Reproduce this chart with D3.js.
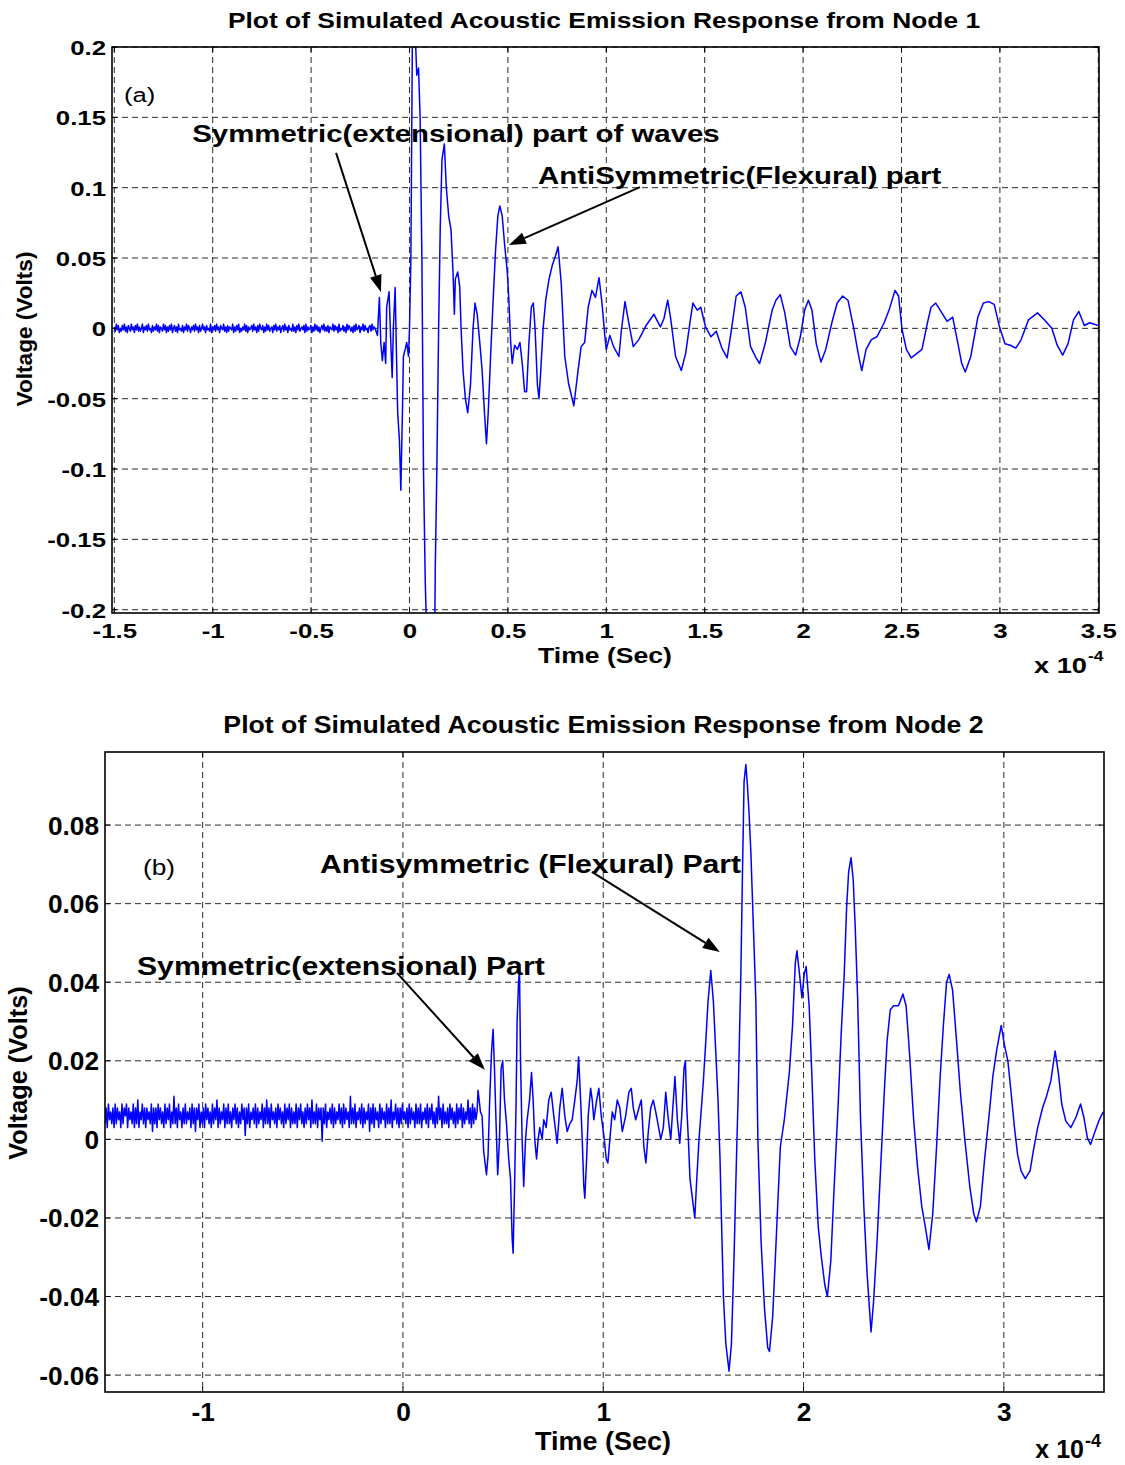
<!DOCTYPE html>
<html><head><meta charset="utf-8">
<script src="https://cdn.jsdelivr.net/npm/d3@7"></script>
<style>body{margin:0;background:#fff}svg{display:block}</style>
</head><body>
<svg id="c" width="1125" height="1465"></svg>
<script>
// ---------------- DATA (time in units of 1e-4 s, voltage in V) ----------------
const node1Title = "Plot of Simulated Acoustic Emission Response from Node 1";
const node2Title = "Plot of Simulated Acoustic Emission Response from Node 2";

const node1XTicks = [-1.5,-1,-0.5,0,0.5,1,1.5,2,2.5,3,3.5];
const node1XLabels = ["-1.5","-1","-0.5","0","0.5","1","1.5","2","2.5","3","3.5"];
const node1YTicks = [-0.2,-0.15,-0.1,-0.05,0,0.05,0.1,0.15,0.2];
const node1YLabels = ["-0.2","-0.15","-0.1","-0.05","0","0.05","0.1","0.15","0.2"];

const node2XTicks = [-1,0,1,2,3];
const node2XLabels = ["-1","0","1","2","3"];
const node2YTicks = [-0.06,-0.04,-0.02,0,0.02,0.04,0.06,0.08];
const node2YLabels = ["-0.06","-0.04","-0.02","0","0.02","0.04","0.06","0.08"];

// pre-trigger noise (mV), sampled evenly over [start, end]
const node1NoiseSpan = [-1.5, -0.18];
const node1NoiseMV = [
1,-2,3,-1,2,-3,0,-2,2,-1,3,-2,1,-3,2,0,-2,3,-1,1,
-3,2,-1,3,-2,1,-2,0,3,-3,1,-1,2,-2,3,-1,0,-3,2,-2,
1,-1,3,-2,2,-3,1,0,-2,3,-1,2,-3,1,-2,2,-1,3,-3,0,
2,-2,1,-3,3,-1,0,-2,2,-3,1,-1,3,-2,2,0,-3,1,-1,2,
-2,3,-1,1,-3,2,-2,0,3,-1,1,-3,2,-1,0,-2,3,-3,1,-1,
2,-2,3,-1,1,-3,2,0,-1,3,-2,1,-3,2,-2,1,0,-1,3,-3,
1,-2,2,-1,3,-3,0,-2,1,-1,3,-2,2,-3,1,-1,0,2,-2,3,
-1,1,-3,2,-2,3,0,-1,2,-3,1,-2,3,-1,2,-2,0,1,-3,2,
-1,3,-2,1,-1,2,-3,0,2,-2,3,-1,1,-3,2,-1,0,-2,3,-2,
1,-3,2,-1,3,-2,0,1,-1,2,-3,3,-2,1,-1,0,2,-3,1,-2,
3,-1,2,-2,1,-3,0,2,-1,3,-2,1,-2,2,-3,1,0,-1,3,-2,
2,-1,1,-3,3,-2,0,-1,2,-2,1,-3,3,-1,2,0,-2,1,-3,2,
-2,3,-1,0,2,-3,1,-1,3,-2,2,-1,0,-3,1,2,-2,3,-1,1];

const node2NoiseSpan = [-1.4875, 0.37];
const node2NoiseMV = [
4,8,3,9,5,7,4,8,3,9,4,8,5,7,3,9,4,8,6,9,3,8,
5,7,4,9,3,8,4,10,3,7,5,9,4,8,3,8,5,7,4,9,2,8,
4,8,3,9,5,8,4,7,3,9,4,8,5,9,3,7,4,11,4,8,3,9,
5,7,3,8,4,9,4,7,5,8,3,9,4,8,2,8,5,9,3,7,4,8,
3,9,5,8,4,7,3,9,4,8,5,10,3,8,4,7,5,9,3,8,4,9,
4,7,3,8,5,9,4,8,3,7,4,9,5,8,1,8,4,9,3,7,5,8,
4,9,3,8,4,7,5,9,3,8,4,10,4,8,3,9,5,7,4,8,3,9,
5,8,4,7,3,9,4,8,5,9,3,8,4,7,4,9,3,8,5,9,4,7,
3,8,4,9,5,8,3,10,4,7,4,9,3,8,5,8,-0.5,8,4,9,3,7,
5,8,4,9,3,8,4,7,5,9,4,8,3,9,4,8,5,7,3,11,4,8,
4,9,3,7,5,8,4,9,3,8,4,7,5,9,2,8,4,9,3,8,5,7,
3,9,4,8,5,7,3,9,4,8,4,10,3,7,5,9,4,8,3,8,4,9,
5,7,4,8,3,9,4,8,5,7,3,9,4,8,4,9,3,7,5,8,4,9,
3,8,5,9,4,7,3,8,4,11,5,8,3,9,4,7,4,8,3,9,5,8,
4,7,3,9,4,8,5,9,3,8,4,7,5,10,4,8,3,9,4,8,5,7];

// waveform after the trigger: [time, voltage]
const node1Wave = [[-0.175,0.0],[-0.163,-0.005],[-0.153,0.022],[-0.146,-0.010],[-0.138,-0.023],[-0.129,-0.010],[-0.121,-0.025],[-0.116,0.015],[-0.104,0.026],[-0.095,-0.010],[-0.088,-0.035],[-0.082,0.000],[-0.073,0.029],[-0.066,-0.020],[-0.060,-0.060],[-0.051,-0.080],[-0.044,-0.115],[-0.036,-0.060],[-0.031,-0.020],[-0.022,-0.015],[-0.014,-0.010],[-0.005,-0.020],[0.000,0.000],[0.007,0.050],[0.015,0.215],[0.029,0.210],[0.037,0.180],[0.046,0.185],[0.054,0.150],[0.063,0.050],[0.071,-0.100],[0.080,-0.180],[0.088,-0.220],[0.128,-0.220],[0.131,-0.170],[0.139,-0.100],[0.148,0.000],[0.156,0.070],[0.165,0.120],[0.177,0.131],[0.187,0.100],[0.199,0.080],[0.211,0.070],[0.221,0.040],[0.228,0.010],[0.233,0.035],[0.245,0.040],[0.255,0.030],[0.262,0.000],[0.272,-0.030],[0.284,-0.050],[0.296,-0.060],[0.310,-0.040],[0.323,0.000],[0.333,0.018],[0.344,0.010],[0.357,-0.010],[0.369,-0.030],[0.381,-0.060],[0.391,-0.082],[0.400,-0.060],[0.412,-0.020],[0.425,0.020],[0.437,0.055],[0.449,0.080],[0.459,0.087],[0.471,0.080],[0.483,0.060],[0.497,0.040],[0.505,0.020],[0.514,-0.010],[0.522,-0.025],[0.534,-0.012],[0.548,-0.015],[0.561,-0.010],[0.573,-0.025],[0.585,-0.045],[0.595,-0.045],[0.607,-0.010],[0.619,0.015],[0.629,0.018],[0.638,0.000],[0.650,-0.040],[0.658,-0.050],[0.667,-0.030],[0.679,0.000],[0.692,0.020],[0.709,0.035],[0.726,0.045],[0.743,0.052],[0.755,0.058],
[0.771,0.032],[0.789,-0.020],[0.808,-0.039],[0.835,-0.055],[0.853,-0.034],[0.872,-0.013],[0.890,-0.010],[0.908,0.015],[0.927,0.027],[0.945,0.022],[0.963,0.036],[0.978,0.018],[0.993,-0.006],[1.000,-0.015],[1.018,-0.005],[1.037,-0.013],[1.064,-0.020],[1.077,-0.001],[1.095,0.019],[1.114,0.004],[1.137,-0.013],[1.165,-0.008],[1.202,0.002],[1.242,0.010],[1.275,0.001],[1.293,0.007],[1.312,0.020],[1.326,0.008],[1.352,-0.020],[1.381,-0.030],[1.403,-0.018],[1.425,0.004],[1.440,0.018],[1.462,0.013],[1.480,0.015],[1.504,0.001],[1.532,-0.006],[1.559,-0.002],[1.587,-0.014],[1.614,-0.021],[1.638,0.001],[1.660,0.023],[1.684,0.026],[1.706,0.015],[1.733,-0.013],[1.761,-0.021],[1.779,-0.025],[1.807,-0.011],[1.843,0.013],[1.862,0.020],[1.884,0.024],[1.907,0.011],[1.935,-0.013],[1.962,-0.019],[1.986,-0.006],[2.008,0.013],[2.027,0.020],[2.045,0.013],[2.067,-0.011],[2.091,-0.024],[2.115,-0.015],[2.146,0.004],[2.173,0.018],[2.201,0.023],[2.228,0.020],[2.256,0.001],[2.280,-0.018],[2.298,-0.030],[2.320,-0.015],[2.347,-0.008],[2.375,-0.006],[2.412,0.004],[2.439,0.014],[2.467,0.027],[2.485,0.023],[2.503,-0.001],[2.525,-0.015],[2.549,-0.021],[2.577,-0.018],[2.604,-0.015],[2.632,0.004],[2.650,0.015],[2.674,0.018],[2.705,0.011],[2.732,0.005],[2.760,0.008],[2.787,-0.011],[2.806,-0.025],[2.824,-0.031],[2.852,-0.020],[2.888,0.008],[2.916,0.018],[2.943,0.019],[2.971,0.017],[2.998,0.001],[3.026,-0.011],[3.053,-0.012],[3.081,-0.014],[3.108,-0.008],[3.145,0.006],[3.191,0.011],[3.227,0.006],[3.264,0.000],[3.291,-0.012],[3.319,-0.019],[3.346,-0.011],[3.374,0.006],[3.401,0.012],[3.429,0.002],[3.456,0.004],[3.500,0.002]];

const node2Wave = [[0.375,0.0125],[0.387,0.007],[0.395,0.006],[0.403,-0.003],[0.417,-0.009],[0.425,-0.004],[0.433,0.010],[0.442,0.022],[0.450,0.028],[0.457,0.018],[0.465,0.004],[0.473,-0.009],[0.482,0.000],[0.490,0.018],[0.498,0.020],[0.507,0.010],[0.517,0.004],[0.528,-0.005],[0.537,-0.010],[0.545,-0.025],[0.550,-0.029],[0.558,-0.010],[0.565,0.010],[0.570,0.030],[0.577,0.040],[0.582,0.043],[0.587,0.020],[0.595,0.000],[0.603,-0.012],[0.612,0.000],[0.620,0.005],[0.632,0.010],[0.642,0.017],[0.650,0.010],[0.658,0.000],[0.667,-0.005],[0.675,0.000],[0.683,0.003],[0.695,0.000],[0.703,0.005],[0.715,0.003],[0.728,0.010],[0.740,0.012],[0.753,0.006],[0.770,-0.001],[0.783,0.008],[0.795,0.013],[0.808,0.006],[0.820,0.002],[0.833,0.004],[0.845,0.005],[0.858,0.010],[0.870,0.015],[0.877,0.021],[0.887,0.010],[0.895,0.000],[0.903,-0.012],[0.908,-0.015],[0.917,-0.005],[0.925,0.006],[0.937,0.013],[0.945,0.010],[0.953,0.005],[0.967,0.010],[0.978,0.013],[0.990,0.006],[1.003,0.001],[1.015,-0.005],[1.023,-0.006],[1.033,0.000],[1.045,0.007],[1.057,0.005],[1.070,0.010],[1.083,0.008],[1.095,0.002],[1.112,0.006],[1.128,0.012],[1.140,0.013],[1.150,0.008],[1.162,0.005],[1.178,0.008],[1.190,0.010],[1.203,-0.002],[1.213,-0.006],[1.225,0.002],[1.237,0.008],[1.250,0.010],[1.262,0.007],[1.273,0.004],[1.287,0.000],[1.300,0.003],[1.312,0.012],[1.323,0.006],[1.337,0.000],[1.350,0.010],[1.358,0.016],[1.370,0.005],[1.382,-0.001],[1.392,0.006],[1.403,0.018],[1.410,0.020],[1.417,0.008],[1.425,0.000],[1.433,-0.010],[1.445,-0.015],[1.457,-0.020],[1.467,-0.010],[1.478,0.000],[1.490,0.008],[1.500,0.015],[1.512,0.025],[1.523,0.035],[1.537,0.043],[1.550,0.035],[1.562,0.022],[1.573,0.010],[1.583,-0.005],[1.590,-0.020],[1.600,-0.040],[1.612,-0.052],[1.628,-0.059],[1.640,-0.052],[1.653,-0.030],[1.665,-0.005],[1.673,0.010],[1.687,0.042],[1.695,0.0675],[1.703,0.091],[1.712,0.0954],[1.720,0.090],[1.728,0.083],[1.737,0.073],[1.745,0.061],[1.753,0.049],[1.762,0.035],[1.772,0.000],[1.788,-0.026],[1.805,-0.043],[1.821,-0.053],[1.830,-0.054],[1.846,-0.045],[1.863,-0.026],[1.884,-0.002],[1.904,0.005],[1.929,0.017],[1.945,0.029],[1.959,0.045],[1.967,0.048],[1.980,0.042],[1.992,0.036],[2.003,0.042],[2.013,0.044],[2.028,0.034],[2.041,0.017],[2.056,-0.005],[2.073,-0.022],[2.089,-0.030],[2.106,-0.037],[2.119,-0.040],[2.136,-0.031],[2.152,-0.013],[2.172,0.008],[2.188,0.027],[2.203,0.042],[2.215,0.059],[2.225,0.068],[2.237,0.0717],[2.248,0.066],[2.258,0.054],[2.270,0.036],[2.284,0.006],[2.301,-0.017],[2.317,-0.034],[2.337,-0.049],[2.350,-0.041],[2.367,-0.026],[2.387,-0.005],[2.403,0.012],[2.417,0.025],[2.433,0.033],[2.450,0.034],[2.474,0.034],[2.496,0.037],[2.512,0.034],[2.529,0.022],[2.549,0.0055],[2.569,-0.007],[2.590,-0.017],[2.607,-0.022],[2.626,-0.028],[2.645,-0.019],[2.664,-0.002],[2.681,0.015],[2.698,0.029],[2.714,0.040],[2.727,0.042],[2.744,0.038],[2.764,0.025],[2.783,0.012],[2.805,0.000],[2.830,-0.012],[2.850,-0.019],[2.863,-0.021],[2.883,-0.017],[2.904,-0.005],[2.926,0.006],[2.945,0.016],[2.965,0.023],[2.987,0.029],[3.003,0.024],[3.020,0.020],[3.036,0.012],[3.053,0.003],[3.069,-0.004],[3.086,-0.008],[3.107,-0.010],[3.131,-0.008],[3.147,-0.003],[3.169,0.003],[3.193,0.008],[3.213,0.011],[3.235,0.015],[3.256,0.0225],[3.273,0.0166],[3.289,0.009],[3.309,0.0047],[3.334,0.003],[3.359,0.0055],[3.383,0.009],[3.400,0.0055],[3.417,0.0004],[3.433,-0.0013],[3.455,0.002],[3.474,0.0047],[3.496,0.007]];

// annotations in data coordinates
const node1Notes = [
  {text:"Symmetric(extensional) part of waves", t:-1.104, v:0.1324, tail:[-0.373,0.1247], tip:[-0.145,0.0258]},
  {text:"AntiSymmetric(Flexural) part", t:0.653, v:0.1026, tail:[1.171,0.1004], tip:[0.505,0.0592]}
];
const node2Notes = [
  {text:"Antisymmetric (Flexural) Part", t:-0.414, v:0.0678, tail:[0.943,0.0681], tip:[1.582,0.0477]},
  {text:"Symmetric(extensional) Part", t:-1.328, v:0.0418, tail:[-0.030,0.0424], tip:[0.409,0.0177]}
];

// ---------------- DRAWING ----------------
const FONT = "'Liberation Sans', Arial, Helvetica, sans-serif";
const svg = d3.select('#c');
svg.append('rect').attr('width',1125).attr('height',1465).attr('fill','#fff');

function label(x, y, str, o) {
  return svg.append('text')
    .attr('transform', `translate(${x},${y}) ${o.rotate ? 'rotate(-90)' : ''} scale(${o.sx||1},1)`)
    .attr('text-anchor', o.anchor || 'start')
    .attr('font-family', FONT)
    .attr('font-weight', o.weight || 'bold')
    .attr('font-size', o.size)
    .attr('fill', '#000')
    .text(str);
}

function drawPanel(p) {
  const x = d3.scaleLinear().domain(p.xDomain).range(p.xRange);
  const y = d3.scaleLinear().domain(p.yDomain).range(p.yRange);
  const B = p.box;
  const g = svg.append('g');

  svg.append('clipPath').attr('id', 'clip' + p.id)
    .append('rect').attr('x', B.l).attr('y', B.t).attr('width', B.r - B.l).attr('height', B.b - B.t);

  // grid
  g.append('g').selectAll('line').data(p.xTicks).join('line')
    .attr('x1', d => x(d)).attr('x2', d => x(d)).attr('y1', B.t).attr('y2', B.b)
    .attr('stroke', '#2a2a2a').attr('stroke-width', 1).attr('stroke-dasharray', '6,4');
  g.append('g').selectAll('line').data(p.yTicks).join('line')
    .attr('y1', d => y(d)).attr('y2', d => y(d)).attr('x1', B.l).attr('x2', B.r)
    .attr('stroke', '#2a2a2a').attr('stroke-width', 1).attr('stroke-dasharray', '6,4');

  // waveform: noise samples + wave
  const n = p.noise.length;
  const noisePts = p.noise.map((mv, i) => [p.noiseSpan[0] + i * (p.noiseSpan[1] - p.noiseSpan[0]) / (n - 1), mv / 1000]);
  const pts = noisePts.concat(p.wave);
  g.append('path').datum(pts)
    .attr('clip-path', `url(#clip${p.id})`)
    .attr('fill', 'none').attr('stroke', '#0000ff').attr('stroke-width', p.lineW)
    .attr('stroke-linejoin', 'round')
    .attr('d', d3.line().x(d => x(d[0])).y(d => y(d[1])));

  // small inward tick marks on all sides
  const tl = 5;
  const tk = g.append('g').attr('stroke', '#000').attr('stroke-width', 1);
  p.xTicks.forEach(d => {
    tk.append('line').attr('x1', x(d)).attr('x2', x(d)).attr('y1', B.b).attr('y2', B.b - tl);
    tk.append('line').attr('x1', x(d)).attr('x2', x(d)).attr('y1', B.t).attr('y2', B.t + tl);
  });
  p.yTicks.forEach(d => {
    tk.append('line').attr('y1', y(d)).attr('y2', y(d)).attr('x1', B.l).attr('x2', B.l + tl);
    tk.append('line').attr('y1', y(d)).attr('y2', y(d)).attr('x1', B.r).attr('x2', B.r - tl);
  });

  // box
  g.append('rect').attr('x', B.l).attr('y', B.t).attr('width', B.r - B.l).attr('height', B.b - B.t)
    .attr('fill', 'none').attr('stroke', '#000').attr('stroke-width', 1.6);

  // axes (labels)
  const xAxis = d3.axisBottom(x).tickValues(p.xTicks)
    .tickFormat(d => p.xLabels[p.xTicks.indexOf(d)]).tickSize(0);
  const gx = g.append('g').attr('transform', `translate(0,${B.b})`).call(xAxis);
  gx.select('.domain').remove();
  gx.attr('font-family', FONT).attr('font-size', p.tickSize).attr('font-weight', 'bold');
  gx.selectAll('text').attr('y', p.xLabelOff).attr('dy', null).attr('fill', '#000')
    .attr('transform', `scale(${p.sx},1)`);

  const yAxis = d3.axisLeft(y).tickValues(p.yTicks)
    .tickFormat(d => p.yLabels[p.yTicks.indexOf(d)]).tickSize(0);
  const gy = g.append('g').attr('transform', `translate(${B.l},0)`).call(yAxis);
  gy.select('.domain').remove();
  gy.attr('font-family', FONT).attr('font-size', p.tickSize).attr('font-weight', 'bold');
  gy.selectAll('text').attr('x', -p.yLabelGap / p.sx).attr('dy', null).attr('y', p.yLabelOff)
    .attr('fill', '#000').attr('transform', `scale(${p.sx},1)`);

  // titles / labels
  label(p.title.x, p.title.y, p.title.text, {size: p.title.size, sx: p.title.sx, anchor: 'middle'});
  label(p.xlab.x, p.xlab.y, 'Time (Sec)', {size: p.xlab.size, sx: p.xlab.sx, anchor: 'middle'});
  label(p.ylab.x, p.ylab.y, 'Voltage (Volts)', {size: p.ylab.size, anchor: 'middle', rotate: true});
  label(p.exp.x, p.exp.y, 'x 10', {size: p.exp.size, sx: p.exp.sx, anchor: 'end'});
  label(p.exp.x + 1, p.exp.y - p.exp.rise, '-4', {size: p.exp.supSize, sx: p.exp.sx, anchor: 'start'});
  label(x(p.tag.t), y(p.tag.v), p.tag.text, {size: p.tag.size, sx: p.tag.sx, weight: 'normal'});

  // annotations with arrows
  p.notes.forEach(a => {
    label(x(a.t), y(a.v), a.text, {size: p.noteSize, sx: p.noteSx});
    const x1 = x(a.tail[0]), y1 = y(a.tail[1]), x2 = x(a.tip[0]), y2 = y(a.tip[1]);
    const ang = Math.atan2(y2 - y1, x2 - x1), L = 17, W = 6;
    const bx = x2 - L * Math.cos(ang), by = y2 - L * Math.sin(ang);
    svg.append('line').attr('x1', x1).attr('y1', y1).attr('x2', bx).attr('y2', by)
      .attr('stroke', '#000').attr('stroke-width', 2);
    const px = -Math.sin(ang) * W, py = Math.cos(ang) * W;
    svg.append('polygon')
      .attr('points', `${x2},${y2} ${bx + px},${by + py} ${bx - px},${by - py}`)
      .attr('fill', '#000');
  });
}

drawPanel({
  id: 1,
  box: {l: 112, r: 1099, t: 47, b: 613},
  xDomain: [-1.5, 3.5], xRange: [114.3, 1098.3],
  yDomain: [-0.2, 0.2], yRange: [609.7, 47],
  xTicks: node1XTicks, xLabels: node1XLabels, yTicks: node1YTicks, yLabels: node1YLabels,
  noise: node1NoiseMV, noiseSpan: node1NoiseSpan, wave: node1Wave, lineW: 1.5,
  tickSize: 20.5, sx: 1.26, xLabelOff: 25.5, yLabelGap: 6, yLabelOff: 7.5,
  title: {text: node1Title, x: 604, y: 28, size: 21.8, sx: 1.21},
  xlab: {x: 605, y: 663, size: 21.8, sx: 1.22},
  ylab: {x: 32, y: 329, size: 22.6},
  exp: {x: 1087, y: 673, size: 21.8, sx: 1.25, supSize: 14, rise: 12},
  tag: {text: '(a)', t: -1.451, v: 0.1609, size: 21, sx: 1.22},
  notes: node1Notes, noteSize: 24.5, noteSx: 1.2
});

drawPanel({
  id: 2,
  box: {l: 105, r: 1104, t: 752, b: 1392},
  xDomain: [-1.4875, 3.5], xRange: [105, 1104],
  yDomain: [-0.0643, 0.0986], yRange: [1392, 752],
  xTicks: node2XTicks, xLabels: node2XLabels, yTicks: node2YTicks, yLabels: node2YLabels,
  noise: node2NoiseMV, noiseSpan: node2NoiseSpan, wave: node2Wave, lineW: 1.5,
  tickSize: 25, sx: 1.05, xLabelOff: 29, yLabelGap: 6, yLabelOff: 9,
  title: {text: node2Title, x: 603.5, y: 733, size: 24.7, sx: 1.08},
  xlab: {x: 603, y: 1450, size: 25, sx: 1.08},
  ylab: {x: 27, y: 1073, size: 25.3},
  exp: {x: 1084, y: 1458, size: 25, sx: 1.0, supSize: 18, rise: 11},
  tag: {text: '(b)', t: -1.298, v: 0.0673, size: 21.5, sx: 1.22},
  notes: node2Notes, noteSize: 25.6, noteSx: 1.18
});
</script>
</body></html>
